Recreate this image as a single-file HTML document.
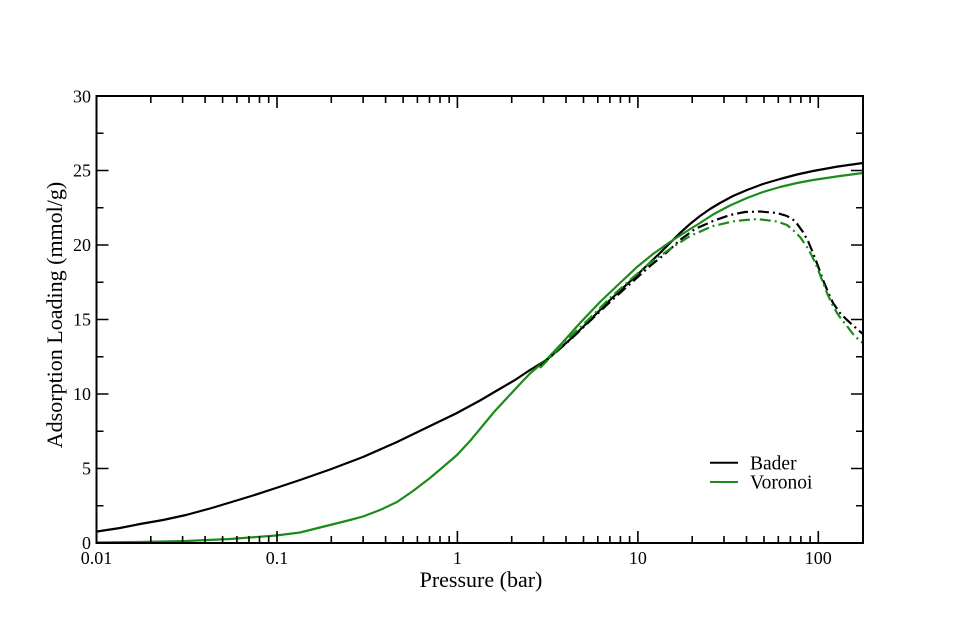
<!DOCTYPE html>
<html>
<head>
<meta charset="utf-8">
<style>
html,body{margin:0;padding:0;background:#fff;}
svg{display:block;}
text{font-family:"Liberation Serif","Times New Roman",serif;fill:#000;}
</style>
</head>
<body>
<svg width="960" height="640" viewBox="0 0 960 640" xmlns="http://www.w3.org/2000/svg">
<defs>
<clipPath id="pa"><rect x="96.5" y="96" width="766.5" height="447"/></clipPath>
</defs>
<rect width="960" height="640" fill="#fff"/>

<!-- curves -->
<g clip-path="url(#pa)" fill="none" stroke-linejoin="round" stroke-linecap="butt">
<polyline stroke="#000" stroke-width="2.2" points="97,531.5 120,528 140,524 163,520 186,515 210,508.5 230,502.5 253,495.5 276,488 300,480 330,469.5 363,457 397,442 430,426 456,413.5 480,400.5 497,390.5 515,380 530,370 547,359.5 570,339.5 587,323 610,300 637,275 660,253 680,233 690,224 700,216 710,209 720,203 733,196 747,190 763,184 780,179 797,174.5 813,171 838,166.5 863,163"/>
<polyline stroke="#1b8c1b" stroke-width="2.2" points="97,542.5 140,542 186,541 230,539 276,535.5 300,532.5 330,525 350,520 363,516.5 380,510 397,502 413,491 430,478 443,467 457,455 470,441 480,429 494,412 507,398 520,384 530,373.5 547,359 563,342 580,323 600,302 620,283 637,267 653,254 670,242 687,231 700,223 713,214.5 730,205.5 747,198 763,192 780,187 797,183 813,180 840,176 863,173"/>
<polyline stroke="#000" stroke-width="2.2" stroke-dasharray="11 4 2 4" points="540,366 570,340 590,321 610,302 630,284 650,266 665,254 680,240 695,229 713,221 730,215 745,212 760,211.5 777,213 787,216 795,221 803,232 808,241 813,253 818,266 823,280 828,292 833,303 840,313 847,320 857,329 863,334"/>
<polyline stroke="#1b8c1b" stroke-width="2.2" stroke-dasharray="11 4 2 4" points="540,368 570,337 590,318 610,298 630,280 650,263 670,249 690,236 713,226 735,221 757,219 777,221.5 787,225 793,230 800,237 807,247 812,256 817,267 822,280 827,293 832,304 837,313 842,320 847,326 853,334 860,341 863,343"/>
</g>

<!-- frame -->
<rect x="96.5" y="96" width="766.5" height="447" fill="none" stroke="#000" stroke-width="2"/>

<!-- ticks -->
<g stroke="#000" stroke-width="1.6" fill="none">
<path d="M277,543V531 M457.4,543V531 M637.9,543V531 M818.3,543V531"/>
<path d="M277,96V108 M457.4,96V108 M637.9,96V108 M818.3,96V108"/>
<path d="M150.8,543V536 M182.6,543V536 M205.1,543V536 M222.6,543V536 M236.9,543V536 M249,543V536 M259.5,543V536 M268.7,543V536
M331.3,543V536 M363.1,543V536 M385.6,543V536 M403.1,543V536 M417.4,543V536 M429.5,543V536 M440,543V536 M449.2,543V536
M511.7,543V536 M543.5,543V536 M566,543V536 M583.5,543V536 M597.8,543V536 M609.9,543V536 M620.4,543V536 M629.6,543V536
M692.2,543V536 M724,543V536 M746.5,543V536 M764,543V536 M778.3,543V536 M790.4,543V536 M800.9,543V536 M810.1,543V536"/>
<path d="M150.8,96V103 M182.6,96V103 M205.1,96V103 M222.6,96V103 M236.9,96V103 M249,96V103 M259.5,96V103 M268.7,96V103
M331.3,96V103 M363.1,96V103 M385.6,96V103 M403.1,96V103 M417.4,96V103 M429.5,96V103 M440,96V103 M449.2,96V103
M511.7,96V103 M543.5,96V103 M566,96V103 M583.5,96V103 M597.8,96V103 M609.9,96V103 M620.4,96V103 M629.6,96V103
M692.2,96V103 M724,96V103 M746.5,96V103 M764,96V103 M778.3,96V103 M790.4,96V103 M800.9,96V103 M810.1,96V103"/>
<path d="M96.5,468.5H108.5 M96.5,394H108.5 M96.5,319.5H108.5 M96.5,245H108.5 M96.5,170.5H108.5"/>
<path d="M96.5,505.75H103.5 M96.5,431.25H103.5 M96.5,356.75H103.5 M96.5,282.25H103.5 M96.5,207.75H103.5 M96.5,133.25H103.5"/>
<path d="M863,468.5H851 M863,394H851 M863,319.5H851 M863,245H851 M863,170.5H851"/>
<path d="M863,505.75H856 M863,431.25H856 M863,356.75H856 M863,282.25H856 M863,207.75H856 M863,133.25H856"/>
</g>

<!-- y tick labels -->
<g font-size="18" text-anchor="end">
<text x="91" y="549">0</text>
<text x="91" y="474.5">5</text>
<text x="91" y="400">10</text>
<text x="91" y="325.5">15</text>
<text x="91" y="251">20</text>
<text x="91" y="176.5">25</text>
<text x="91" y="102.5">30</text>
</g>

<!-- x tick labels -->
<g font-size="18" text-anchor="middle">
<text x="96.5" y="564">0.01</text>
<text x="277" y="564">0.1</text>
<text x="457.4" y="564">1</text>
<text x="637.9" y="564">10</text>
<text x="818.3" y="564">100</text>
</g>

<!-- axis titles -->
<text x="481" y="587" font-size="22" text-anchor="middle">Pressure (bar)</text>
<text transform="translate(62,315) rotate(-90)" font-size="22" text-anchor="middle">Adsorption Loading (mmol/g)</text>

<!-- legend -->
<line x1="710" y1="462.7" x2="738" y2="462.7" stroke="#000" stroke-width="2"/>
<line x1="710" y1="482" x2="738" y2="482" stroke="#1b8c1b" stroke-width="2"/>
<text x="750" y="469.3" font-size="19.5">Bader</text>
<text x="750" y="488.7" font-size="19.5">Voronoi</text>
</svg>
</body>
</html>
